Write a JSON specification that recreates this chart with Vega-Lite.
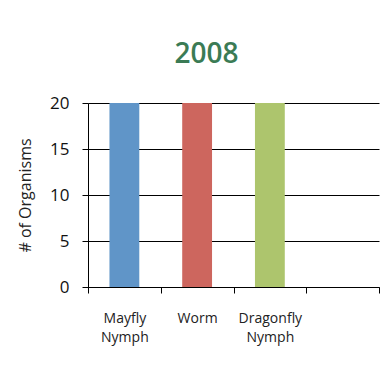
{
  "$schema": "https://vega.github.io/schema/vega-lite/v6.json",
  "width": 291,
  "height": 184,
  "autosize": {"type": "none"},
  "padding": {"left": 88, "top": 103, "right": 12, "bottom": 86},
  "background": "white",
  "title": {
    "text": "2008",
    "font": "Open Sans",
    "fontSize": 28,
    "fontWeight": 600,
    "color": "#3b7b55",
    "anchor": "middle",
    "baseline": "alphabetic",
    "offset": 3,
    "dx": -27
  },
  "data": {
    "values": [
      {"organism": "Mayfly Nymph", "count": 20},
      {"organism": "Worm", "count": 20},
      {"organism": "Dragonfly Nymph", "count": 20}
    ]
  },
  "mark": {"type": "bar", "width": {"band": 0.41}},
  "encoding": {
    "x": {
      "field": "organism",
      "type": "nominal",
      "sort": null,
      "scale": {"domain": ["Mayfly Nymph", "Worm", "Dragonfly Nymph", ""], "paddingInner": 0, "paddingOuter": 0},
      "axis": {
        "title": null,
        "labelAngle": 0,
        "labelExpr": "split(datum.label, ' ')",
        "labelFont": "Open Sans",
        "labelFontSize": 14,
        "labelColor": "#222",
        "labelLineHeight": 19,
        "labelPadding": 18,
        "labelBaseline": "top",
        "tickBand": "extent",
        "tickSize": 6,
        "tickColor": "#000",
        "domainColor": "#000",
        "grid": false
      }
    },
    "y": {
      "field": "count",
      "type": "quantitative",
      "scale": {"domain": [0, 20]},
      "axis": {
        "title": "# of Organisms",
        "titleFont": "Open Sans",
        "titleFontSize": 16,
        "titleFontWeight": "normal",
        "titleColor": "#222",
        "titlePadding": 16,
        "values": [0, 5, 10, 15, 20],
        "labelFont": "Open Sans",
        "labelFontSize": 17,
        "labelColor": "#111",
        "labelPadding": 13,
        "tickSize": 6,
        "tickColor": "#000",
        "domainColor": "#000",
        "grid": true,
        "gridColor": "#000",
        "gridOpacity": 1
      }
    },
    "color": {
      "field": "organism",
      "type": "nominal",
      "scale": {"domain": ["Mayfly Nymph", "Worm", "Dragonfly Nymph"], "range": ["#6095c8", "#cd665e", "#adc56d"]},
      "legend": null
    }
  },
  "config": {"view": {"stroke": null}}
}
